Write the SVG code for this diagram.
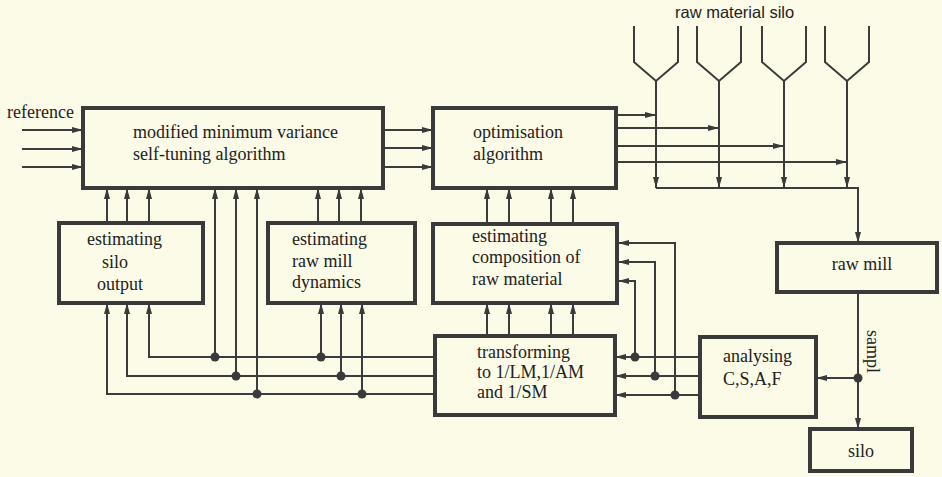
<svg xmlns="http://www.w3.org/2000/svg" width="942" height="477" viewBox="0 0 942 477">
<defs>
<style>
.box{fill:none;stroke:#3a3a3a;stroke-width:4}
.ln{fill:none;stroke:#3c3c3c;stroke-width:2}
.ar{marker-end:url(#ah)}
.t{font-family:"Liberation Serif","Times New Roman",serif;font-size:18px;fill:#222}
.s{font-family:"Liberation Sans",Arial,sans-serif;font-size:16.5px;fill:#222}
.dot{fill:#3a3a3a}
</style>
<marker id="ah" viewBox="0 0 11 6" refX="11" refY="3" markerWidth="11" markerHeight="6" orient="auto" markerUnits="userSpaceOnUse"><path d="M0,0 L11,3 L0,6 Z" fill="#3a3a3a"/></marker>
</defs>
<rect width="942" height="477" fill="#fbfbe7"/>

<g id="connectors">
<!-- reference inputs -->
<path class="ln ar" d="M22,130 H83"/>
<path class="ln ar" d="M22,149 H83"/>
<path class="ln ar" d="M22,167 H83"/>
<!-- box1 to optimisation -->
<path class="ln ar" d="M383,130 H433"/>
<path class="ln ar" d="M383,148 H433"/>
<path class="ln ar" d="M383,167 H433"/>
<!-- optimisation to silos -->
<path class="ln ar" d="M616,115 H656"/>
<path class="ln ar" d="M616,128 H719"/>
<path class="ln ar" d="M616,146 H784"/>
<path class="ln ar" d="M616,162 H847"/>
<!-- silo outlets -->
<path class="ln ar" d="M656,81 V188"/>
<path class="ln ar" d="M719,81 V188"/>
<path class="ln ar" d="M784,81 V188"/>
<path class="ln ar" d="M847,81 V188"/>
<path class="ln ar" d="M656,188 H858 V243"/>
<!-- estimating silo output to box1 -->
<path class="ln ar" d="M107,223 V188"/>
<path class="ln ar" d="M127,223 V188"/>
<path class="ln ar" d="M149,223 V188"/>
<!-- estimating raw mill to box1 -->
<path class="ln ar" d="M318,223 V188"/>
<path class="ln ar" d="M339,223 V188"/>
<path class="ln ar" d="M361,223 V188"/>
<!-- est comp to optimisation -->
<path class="ln ar" d="M487,224 V188"/>
<path class="ln ar" d="M509,224 V188"/>
<path class="ln ar" d="M551,224 V188"/>
<path class="ln ar" d="M573,224 V188"/>
<!-- transforming to est comp -->
<path class="ln ar" d="M487,336 V303"/>
<path class="ln ar" d="M509,336 V303"/>
<path class="ln ar" d="M551,336 V303"/>
<path class="ln ar" d="M573,336 V303"/>
<!-- bus lines from transforming -->
<path class="ln ar" d="M435,357 H149 V303"/>
<path class="ln ar" d="M435,376 H127 V303"/>
<path class="ln ar" d="M435,394 H107 V303"/>
<path class="ln ar" d="M215,357 V188"/>
<path class="ln ar" d="M236,376 V188"/>
<path class="ln ar" d="M257,394 V188"/>
<path class="ln ar" d="M321,357 V303"/>
<path class="ln ar" d="M341,376 V303"/>
<path class="ln ar" d="M362,394 V303"/>
<!-- analysing to transforming -->
<path class="ln ar" d="M700,357 H615"/>
<path class="ln ar" d="M700,376 H615"/>
<path class="ln ar" d="M700,395 H615"/>
<path class="ln ar" d="M635,357 V281 H618"/>
<path class="ln ar" d="M655,376 V262 H618"/>
<path class="ln ar" d="M675,395 V243 H618"/>
<!-- raw mill to silo, sample -->
<path class="ln ar" d="M858,292 V429"/>
<path class="ln ar" d="M858,378 H816"/>
<circle class="dot" cx="215" cy="357" r="4.5"/>
<circle class="dot" cx="236" cy="376" r="4.5"/>
<circle class="dot" cx="257" cy="394" r="4.5"/>
<circle class="dot" cx="321" cy="357" r="4.5"/>
<circle class="dot" cx="341" cy="376" r="4.5"/>
<circle class="dot" cx="362" cy="394" r="4.5"/>
<circle class="dot" cx="635" cy="357" r="4.5"/>
<circle class="dot" cx="655" cy="376" r="4.5"/>
<circle class="dot" cx="675" cy="395" r="4.5"/>
<circle class="dot" cx="858" cy="378" r="4.5"/>
</g>

<text class="t" x="7" y="118">reference</text>
<text class="t" transform="translate(867,330) rotate(90)" font-size="17px">sampl</text>

<g id="raw-material-silo">
<text class="s" x="675" y="18">raw material silo</text>
<path class="ln" d="M634,26 V62 L656,81 L678,62 V26"/>
<path class="ln" d="M697,26 V62 L719,81 L741,62 V26"/>
<path class="ln" d="M762,26 V62 L784,81 L806,62 V26"/>
<path class="ln" d="M825,26 V62 L847,81 L869,62 V26"/>
</g>

<g id="self-tuning">
<rect class="box" x="83" y="108" width="300" height="80"/>
<text class="t" x="133" y="138">modified minimum variance</text>
<text class="t" x="133" y="160">self-tuning algorithm</text>
</g>

<g id="optimisation">
<rect class="box" x="433" y="108" width="183" height="80"/>
<text class="t" x="473" y="138">optimisation</text>
<text class="t" x="473" y="160">algorithm</text>
</g>

<g id="est-silo-output">
<rect class="box" x="59" y="223" width="144" height="80"/>
<text class="t" x="87" y="245">estimating</text>
<text class="t" x="102" y="268">silo</text>
<text class="t" x="97" y="290">output</text>
</g>

<g id="est-raw-mill">
<rect class="box" x="268" y="223" width="147" height="80"/>
<text class="t" x="292" y="245">estimating</text>
<text class="t" x="292" y="267">raw mill</text>
<text class="t" x="292" y="288">dynamics</text>
</g>

<g id="est-composition">
<rect class="box" x="433" y="224" width="184" height="79"/>
<text class="t" x="472" y="242">estimating</text>
<text class="t" x="472" y="263">composition of</text>
<text class="t" x="472" y="285">raw material</text>
</g>

<g id="transforming">
<rect class="box" x="435" y="336" width="180" height="79"/>
<text class="t" x="477" y="358">transforming</text>
<text class="t" x="477" y="378">to 1/LM,1/AM</text>
<text class="t" x="477" y="398">and 1/SM</text>
</g>

<g id="analysing">
<rect class="box" x="700" y="337" width="116" height="80"/>
<text class="t" x="723" y="362">analysing</text>
<text class="t" x="723" y="385">C,S,A,F</text>
</g>

<g id="raw-mill">
<rect class="box" x="777" y="243" width="160" height="49"/>
<text class="t" x="862" y="270" text-anchor="middle">raw mill</text>
</g>

<g id="silo">
<rect class="box" x="810" y="429" width="102" height="42"/>
<text class="t" x="861" y="457" text-anchor="middle">silo</text>
</g>
</svg>
